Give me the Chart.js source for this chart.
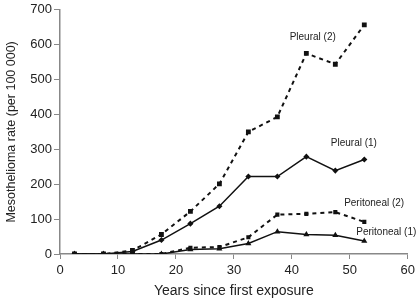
<!DOCTYPE html>
<html><head><meta charset="utf-8">
<script src="https://cdn.jsdelivr.net/npm/chart.js@4"></script>
<style>html,body{margin:0;padding:0;background:#fff}#w{width:419px;height:304px}</style>
</head><body><div id="w"><canvas id="c"></canvas></div>
<script>
const years = [2.5, 7.5, 12.5, 17.5, 22.5, 27.5, 32.5, 37.5, 42.5, 47.5, 52.5];
const pleural2 = [0, 0, 10, 56, 122, 201, 350, 393, 575, 544, 657];
const pleural1 = [0, 0, 7, 40, 87, 137, 222, 222, 279, 239, 271];
const peritoneal2 = [0, 0, 0, 0, 18, 20, 48, 113, 115, 120, 92];
const peritoneal1 = [0, 0, 0, 0, 13, 15, 30, 64, 56, 54, 37];
const xTicks = [0, 10, 20, 30, 40, 50, 60];
const yTicks = [0, 100, 200, 300, 400, 500, 600, 700];
const labels = [
  {text: 'Pleural (2)', x: 43.6, y: 620},
  {text: 'Pleural (1)', x: 50.7, y: 318},
  {text: 'Peritoneal (2)', x: 54.2, y: 145},
  {text: 'Peritoneal (1)', x: 56.3, y: 62}
];
const pts = arr => years.map((x, i) => ({x, y: arr[i]}));
const FONT = 'Liberation Sans, Arial, sans-serif';

const labelPlugin = {
  id: 'seriesLabels',
  afterDatasetsDraw(chart) {
    const {ctx, scales} = chart;
    ctx.save();
    ctx.font = '10px ' + FONT;
    ctx.fillStyle = '#222';
    ctx.textAlign = 'center';
    ctx.textBaseline = 'middle';
    labels.forEach(l => ctx.fillText(l.text, scales.x.getPixelForValue(l.x), scales.y.getPixelForValue(l.y)));
    ctx.restore();
  }
};

new Chart(document.getElementById('c'), {
  type: 'line',
  data: {
    datasets: [
      {data: pts(pleural2), borderColor: '#111', backgroundColor: '#111', borderWidth: 2, borderDash: [4, 4], pointStyle: 'rect', pointRadius: 2},
      {data: pts(pleural1), borderColor: '#111', backgroundColor: '#111', borderWidth: 1.5, pointStyle: 'rectRot', pointRadius: 2},
      {data: pts(peritoneal2), borderColor: '#111', backgroundColor: '#111', borderWidth: 2, borderDash: [4, 4], pointStyle: 'rect', pointRadius: 1.5},
      {data: pts(peritoneal1), borderColor: '#111', backgroundColor: '#111', borderWidth: 1.5, pointStyle: 'triangle', pointRadius: 2}
    ]
  },
  options: {
    responsive: true, maintainAspectRatio: false, animation: false,
    layout: {padding: {top: 8, right: 10, left: 0, bottom: 0}},
    plugins: {legend: {display: false}, tooltip: {enabled: false}},
    scales: {
      x: {
        type: 'linear', min: 0, max: 60,
        afterBuildTicks: s => { s.ticks = xTicks.map(v => ({value: v})); },
        afterFit: s => { s.height = 50; },
        grid: {drawOnChartArea: false, color: '#888', tickLength: 5},
        border: {color: '#888', width: 1.5},
        ticks: {color: '#222', font: {size: 13, family: FONT}, padding: 4},
        title: {display: true, text: 'Years since first exposure', color: '#222', font: {size: 14, family: FONT}, padding: {top: 3}}
      },
      y: {
        min: 0, max: 700,
        afterBuildTicks: s => { s.ticks = yTicks.map(v => ({value: v})); },
        afterFit: s => { s.width = 60; },
        grid: {drawOnChartArea: false, color: '#888', tickLength: 6},
        border: {color: '#888', width: 1.5},
        ticks: {color: '#222', font: {size: 13, family: FONT}, padding: 2},
        title: {display: true, text: 'Mesothelioma rate (per 100 000)', color: '#222', font: {size: 12.5, family: FONT}, padding: {bottom: 2}}
      }
    }
  },
  plugins: [labelPlugin]
});
</script></body></html>
